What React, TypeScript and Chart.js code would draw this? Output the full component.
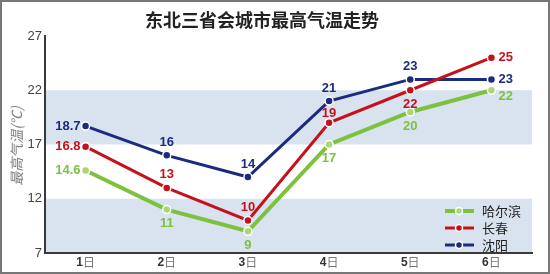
import React, { useEffect, useRef } from "react";
import { Chart, registerables } from "chart.js";

Chart.register(...registerables);

const categories = ["1日", "2日", "3日", "4日", "5日", "6日"];
const harbin = [14.6, 11, 9, 17, 20, 22];
const changchun = [16.8, 13, 10, 19, 22, 25];
const shenyang = [18.7, 16, 14, 21, 23, 23];
const seriesNames = ["哈尔滨", "长春", "沈阳"];
const yTicks = [7, 12, 17, 22, 27];
const bands = [
  [7, 12],
  [17, 22],
];

// label placement per point: l = left, a = above, s = slightly above, b = below, r = right, rb = right-below
const harbinPos = ["l", "b", "b", "b", "b", "rb"];
const changchunPos = ["l", "a", "a", "s", "b", "r"];
const shenyangPos = ["l", "a", "a", "a", "a", "r"];

const GREEN = "#7dc13e";
const RED = "#c8101c";
const BLUE = "#1c2b7e";
const BAND = "#d8e3ef";

const fmt = (v: number) => (Number.isInteger(v) ? String(v) : v.toFixed(1));

export default function App() {
  const ref = useRef<HTMLCanvasElement | null>(null);
  useEffect(() => {
    document.body.style.margin = "0";
    const canvas = ref.current!;
    const posSets = [harbinPos, changchunPos, shenyangPos];
    const colors = [GREEN, RED, BLUE];

    const decor = {
      id: "decor",
      beforeDraw(chart: any) {
        const { ctx, chartArea } = chart;
        const y = chart.scales.y;
        ctx.save();
        ctx.fillStyle = "#fff";
        ctx.fillRect(0, 0, chart.width, chart.height);
        ctx.fillStyle = BAND;
        for (const [a, b] of bands) {
          const y1 = y.getPixelForValue(b);
          const y2 = y.getPixelForValue(a);
          ctx.fillRect(chartArea.left, y1, chartArea.right - chartArea.left, y2 - y1);
        }
        ctx.restore();
      },
      afterDraw(chart: any) {
        const { ctx, chartArea } = chart;
        const xs = chart.scales.x;
        const ys = chart.scales.y;
        ctx.save();
        // title
        ctx.fillStyle = "#222";
        ctx.font = "bold 18px 'Noto Sans CJK SC', sans-serif";
        ctx.textAlign = "center";
        ctx.textBaseline = "middle";
        ctx.fillText("东北三省会城市最高气温走势", 262, 20);
        // y title
        ctx.save();
        ctx.translate(17, 146);
        ctx.rotate(-Math.PI / 2);
        ctx.fillStyle = "#808080";
        ctx.font = "italic 14px 'Noto Sans CJK SC', serif";
        ctx.fillText("最高气温(℃)", 0, 0);
        ctx.restore();
        // y tick labels
        ctx.fillStyle = "#444";
        ctx.font = "13px Arial, 'Liberation Sans', sans-serif";
        ctx.textAlign = "right";
        ctx.textBaseline = "middle";
        yTicks.forEach((v) => {
          ctx.fillText(String(v), chartArea.left - 3, ys.getPixelForValue(v));
        });
        // x labels
        ctx.textBaseline = "middle";
        categories.forEach((c, i) => {
          const x = xs.getPixelForValue(i);
          const num = c.slice(0, -1);
          const suf = c.slice(-1);
          ctx.font = "bold 12px Arial, 'Liberation Sans', sans-serif";
          const w1 = ctx.measureText(num).width;
          ctx.font = "12px 'Noto Sans CJK SC', sans-serif";
          const w2 = ctx.measureText(suf).width;
          const start = x - (w1 + w2) / 2;
          ctx.textAlign = "left";
          ctx.fillStyle = "#333";
          ctx.font = "bold 12px Arial, 'Liberation Sans', sans-serif";
          ctx.fillText(num, start, 263);
          ctx.fillStyle = "#777";
          ctx.font = "12px 'Noto Sans CJK SC', sans-serif";
          ctx.fillText(suf, start + w1, 262);
        });
        // data labels
        ctx.font = "bold 13px Arial, 'Liberation Sans', sans-serif";
        chart.data.datasets.forEach((ds: any, di: number) => {
          const meta = chart.getDatasetMeta(di);
          ctx.fillStyle = colors[di];
          meta.data.forEach((pt: any, i: number) => {
            const p = posSets[di][i];
            const t = fmt(ds.data[i]);
            let x = pt.x;
            let yy = pt.y;
            if (p === "l") {
              ctx.textAlign = "right";
              x -= 5;
            } else if (p === "r") {
              ctx.textAlign = "left";
              x += 7;
            } else if (p === "rb") {
              ctx.textAlign = "left";
              x += 7;
              yy += 6;
            } else if (p === "a") {
              ctx.textAlign = "center";
              yy -= 13;
            } else if (p === "s") {
              ctx.textAlign = "center";
              yy -= 9;
            } else {
              ctx.textAlign = "center";
              yy += 14;
            }
            ctx.textBaseline = "middle";
            ctx.fillText(t, x, yy);
          });
        });
        // legend
        const rows = [211, 228, 245];
        seriesNames.forEach((n, i) => {
          const yy = rows[i];
          ctx.strokeStyle = colors[i];
          ctx.lineWidth = i === 0 ? 4 : 3;
          ctx.beginPath();
          ctx.moveTo(445, yy);
          ctx.lineTo(474, yy);
          ctx.stroke();
          ctx.beginPath();
          ctx.arc(459, yy, 3.5, 0, Math.PI * 2);
          ctx.fillStyle = i === 0 ? "#a8d872" : colors[i];
          ctx.fill();
          ctx.lineWidth = 1.5;
          ctx.strokeStyle = "#fff";
          ctx.stroke();
          ctx.fillStyle = "#222";
          ctx.font = "13px 'Noto Sans CJK SC', serif";
          ctx.textAlign = "left";
          ctx.textBaseline = "middle";
          ctx.fillText(n, 482, yy);
        });
        // outer border
        ctx.strokeStyle = "#777";
        ctx.lineWidth = 2;
        ctx.strokeRect(1, 1, chart.width - 2, chart.height - 2);
        ctx.restore();
      },
    };

    const chart = new Chart(canvas, {
      type: "line",
      data: {
        labels: categories,
        datasets: [
          {
            label: seriesNames[0],
            data: harbin,
            borderColor: GREEN,
            borderWidth: 4,
            pointRadius: 4,
            pointBackgroundColor: "#a8d872",
            pointBorderColor: "#fff",
            pointBorderWidth: 1.5,
            tension: 0,
          },
          {
            label: seriesNames[1],
            data: changchun,
            borderColor: RED,
            borderWidth: 3,
            pointRadius: 4,
            pointBackgroundColor: RED,
            pointBorderColor: "#fff",
            pointBorderWidth: 1.5,
            tension: 0,
          },
          {
            label: seriesNames[2],
            data: shenyang,
            borderColor: BLUE,
            borderWidth: 3,
            pointRadius: 4,
            pointBackgroundColor: BLUE,
            pointBorderColor: "#fff",
            pointBorderWidth: 1.5,
            tension: 0,
          },
        ],
      },
      options: {
        animation: false,
        responsive: false,
        devicePixelRatio: 1,
        layout: { padding: { top: 36, right: 18, left: 0, bottom: 0 } },
        plugins: {
          legend: { display: false },
          title: { display: false },
          tooltip: { enabled: false },
        },
        scales: {
          x: {
            type: "category",
            offset: true,
            grid: { display: false },
            border: { display: true, color: "#3a3a3a", width: 2 },
            ticks: { display: false },
            afterFit: (s: any) => {
              s.height = 21;
            },
          },
          y: {
            min: 7,
            max: 27,
            afterBuildTicks: (s: any) => {
              s.ticks = yTicks.map((v) => ({ value: v }));
            },
            grid: { display: false },
            border: { display: true, color: "#3a3a3a", width: 2 },
            ticks: { display: false },
            afterFit: (s: any) => {
              s.width = 45;
            },
          },
        },
      },
      plugins: [decor],
    } as any);
    return () => chart.destroy();
  }, []);
  return <canvas ref={ref} width={550} height={274} style={{ display: "block", width: 550, height: 274 }} />;
}
